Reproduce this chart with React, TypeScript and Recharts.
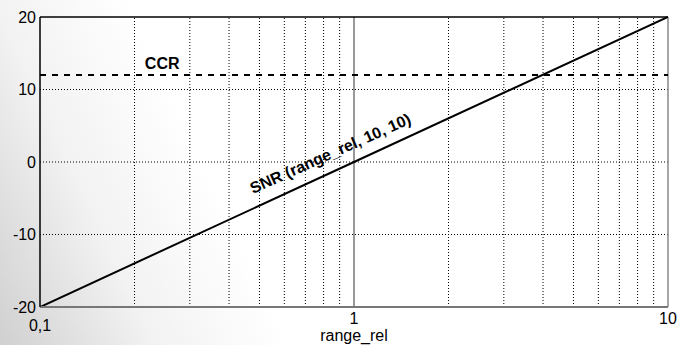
import React from "react";
import {
  ComposedChart,
  Line,
  XAxis,
  YAxis,
  ReferenceLine,
  ReferenceDot,
  Label,
} from "recharts";

// SNR vs relative range (dB), log x axis
const rangeRel = [0.1, 1, 10];
const snrValues = [-20, 0, 20];
const ccrLevel = 12;

const xTicks = [0.1, 1, 10];
const yTicks = [-20, -10, 0, 10, 20];
const minorX = [0.2, 0.3, 0.4, 0.5, 0.6, 0.7, 0.8, 0.9, 2, 3, 4, 5, 6, 7, 8, 9];
const gridY = [-10, 0, 10];

const data = rangeRel.map((x, i) => ({ x, y: snrValues[i] }));

const FONT = "'Liberation Sans', Arial, Helvetica, sans-serif";

const XTick = (props: any) => {
  const { x, y, payload } = props;
  const first = payload.value === 0.1;
  return (
    <text
      x={x}
      y={y + (first ? 7 : 0)}
      dy="0.71em"
      textAnchor="middle"
      fontFamily={FONT}
      fontSize={16}
      fill="#000"
    >
      {String(payload.value).replace(".", ",")}
    </text>
  );
};

const YTick = (props: any) => {
  const { x, y, payload } = props;
  return (
    <text
      x={x}
      y={y}
      dy="0.355em"
      textAnchor="end"
      fontFamily={FONT}
      fontSize={16}
      fill="#000"
    >
      {payload.value}
    </text>
  );
};

export default function App() {
  return (
    <div
      style={{
        position: "absolute",
        left: 0,
        top: 0,
        width: 691,
        height: 345,
        background:
          "linear-gradient(65deg, #d0d0d0 0%, #f2f2f2 18%, #ffffff 34%)",
      }}
    >
      <ComposedChart
        width={691}
        height={345}
        data={data}
        margin={{ top: 17, right: 23, left: 0, bottom: 0 }}
      >
        <XAxis
          dataKey="x"
          type="number"
          scale="log"
          domain={[0.1, 10]}
          ticks={xTicks}
          allowDataOverflow
          height={38}
          tickLine={false}
          tickSize={0}
          tickMargin={6}
          axisLine={{ stroke: "#777", strokeWidth: 2 }}
          tick={<XTick />}
        >
          <Label
            value="range_rel"
            position="insideBottom"
            offset={4}
            fontFamily={FONT}
            fontSize={16}
            fill="#000"
          />
        </XAxis>
        <YAxis
          type="number"
          domain={[-20, 20]}
          ticks={yTicks}
          width={40}
          tickLine={false}
          tickSize={0}
          tickMargin={4}
          axisLine={{ stroke: "#000", strokeWidth: 1.5 }}
          tick={<YTick />}
        />
        {minorX.map((v) => (
          <ReferenceLine
            key={"mx" + v}
            x={v}
            stroke="#000"
            strokeDasharray="1 2"
            strokeWidth={1}
          />
        ))}
        {gridY.map((v) => (
          <ReferenceLine
            key={"gy" + v}
            y={v}
            stroke="#000"
            strokeDasharray="1 2"
            strokeWidth={1}
          />
        ))}
        <ReferenceLine x={1} stroke="#777" strokeWidth={1.5} />
        <ReferenceLine y={20} stroke="#000" strokeWidth={1.5} />
        <ReferenceLine x={10} stroke="#888" strokeWidth={1.5} />
        <ReferenceLine
          y={ccrLevel}
          stroke="#000"
          strokeWidth={2}
          strokeDasharray="6 6"
        />
        <Line
          dataKey="y"
          stroke="#000"
          strokeWidth={2}
          dot={false}
          isAnimationActive={false}
        />
        <ReferenceDot
          x={0.245}
          y={13.6}
          r={1}
          shape={(p: any) => (
            <text
              x={p.cx}
              y={p.cy}
              dy="0.355em"
              textAnchor="middle"
              fontFamily={FONT}
              fontSize={16}
              fontWeight="bold"
              fill="#000"
            >
              CCR
            </text>
          )}
        />
        <ReferenceDot
          x={0.84}
          y={1.2}
          r={1}
          shape={(p: any) => (
            <text
              x={p.cx}
              y={p.cy}
              dy="0.355em"
              textAnchor="middle"
              fontFamily={FONT}
              fontSize={16}
              fontWeight="bold"
              fill="#000"
              transform={`rotate(-24 ${p.cx} ${p.cy})`}
            >
              SNR (range_rel, 10, 10)
            </text>
          )}
        />
      </ComposedChart>
    </div>
  );
}
